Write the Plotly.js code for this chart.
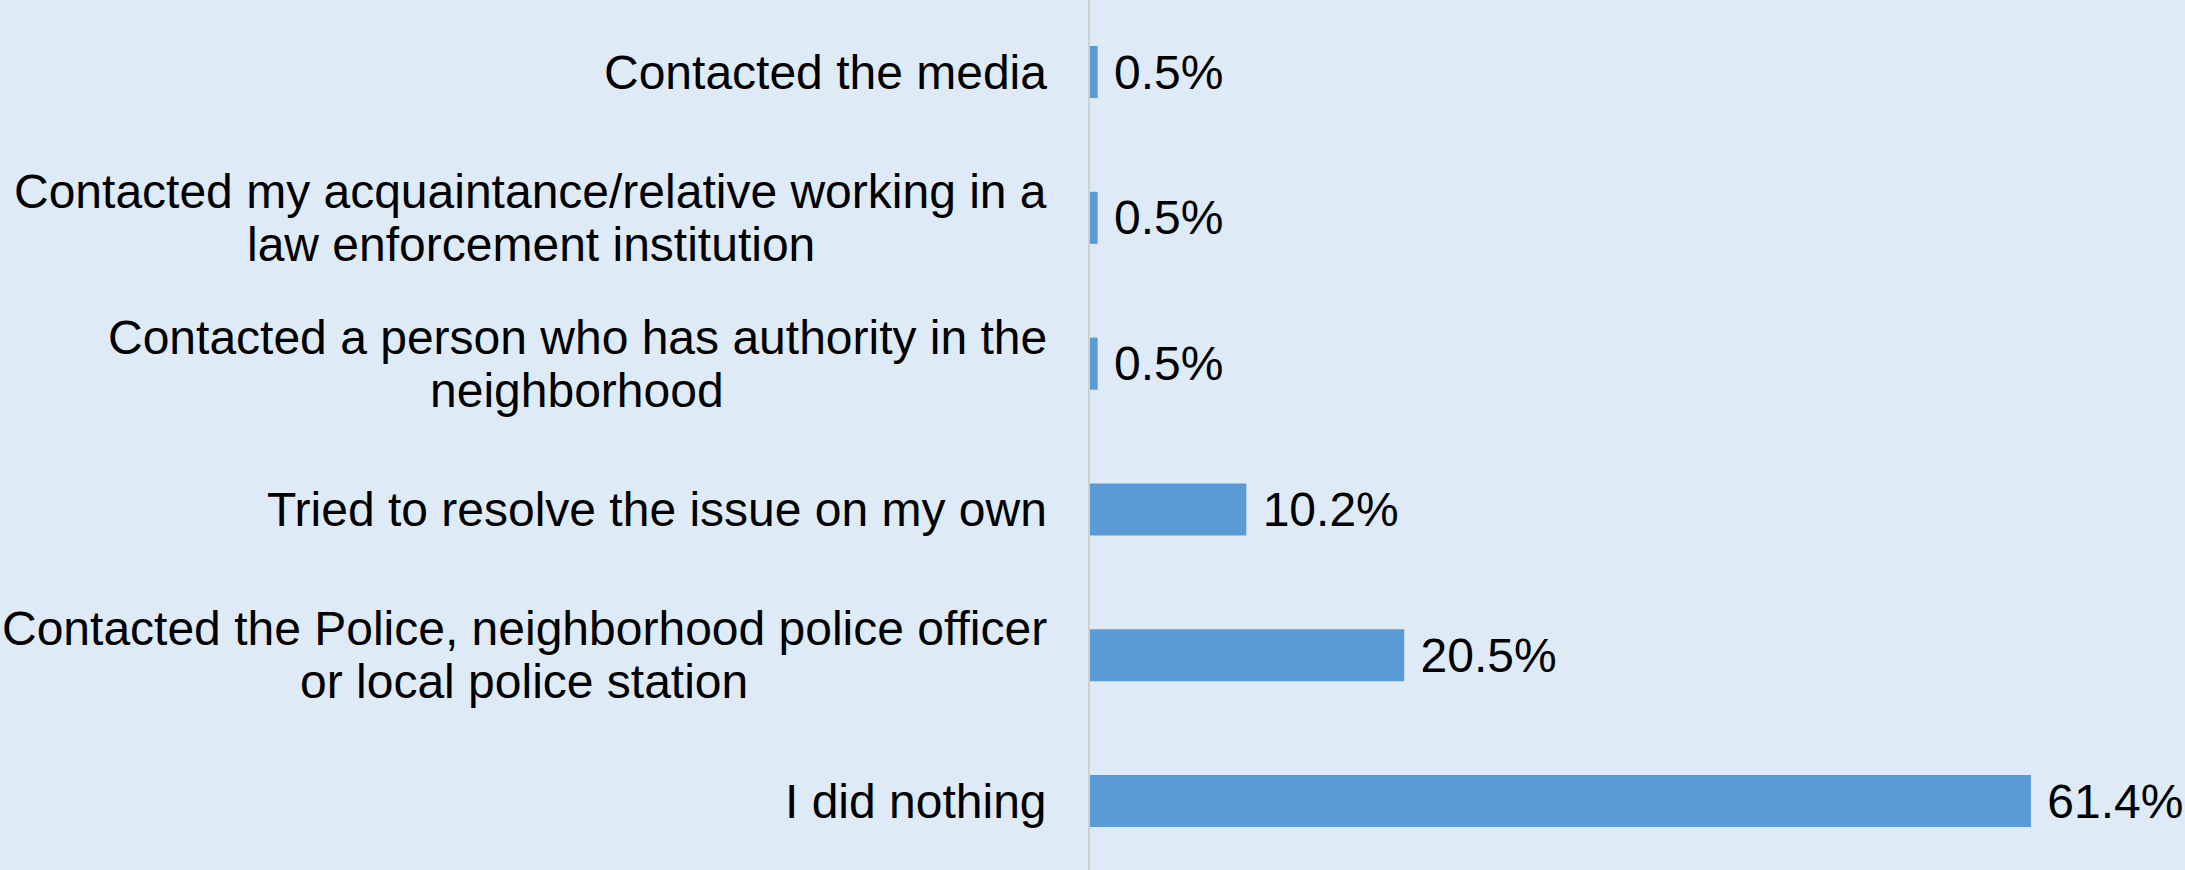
<!DOCTYPE html>
<html>
<head>
<meta charset="utf-8">
<script src="https://cdn.plot.ly/plotly-3.0.1.min.js"></script>
<style>html,body{margin:0;padding:0;background:#DEEAF6;}#chart{width:2185px;height:870px;}</style>
</head>
<body>
<div id="chart"></div>
<script>
// Categories listed top to bottom as shown
const categories = [
  "Contacted the media",
  "Contacted my acquaintance/relative working in a<br>law enforcement institution",
  "Contacted a person who has authority in the<br>neighborhood",
  "Tried to resolve the issue on my own",
  "Contacted the Police, neighborhood police officer<br>or local police station",
  "I did nothing"
];
const values = [0.5, 0.5, 0.5, 10.2, 20.5, 61.4];
const valueLabels = values.map(v => ' ' + v.toFixed(1) + '%');

const FONT = 'Liberation Sans, Arial, sans-serif';
const FONT_SIZE = 48;
const LINE_GAP = 53;     // px between label lines
const LABEL_GAP = 43;    // px between label block and axis

function draw() {
  const cv = document.createElement('canvas');
  const ctx = cv.getContext('2d');
  ctx.font = FONT_SIZE + 'px "Liberation Sans", Arial, sans-serif';

  const annotations = [];
  categories.forEach(cat => {
    const lines = cat.split('<br>');
    const maxW = Math.max(...lines.map(l => ctx.measureText(l).width));
    const n = lines.length;
    lines.forEach((line, k) => {
      annotations.push({
        xref: 'paper', yref: 'y',
        x: 0, y: cat,
        xanchor: 'center', yanchor: 'middle',
        xshift: -(LABEL_GAP + maxW / 2),
        yshift: -(k - (n - 1) / 2) * LINE_GAP,
        text: line,
        showarrow: false,
        align: 'center',
        font: {family: FONT, size: FONT_SIZE, color: '#000000'}
      });
    });
  });

  const trace = {
    type: 'bar',
    orientation: 'h',
    y: categories,
    x: values,
    text: valueLabels,
    textposition: 'outside',
    constraintext: 'none',
    cliponaxis: false,
    textfont: {family: FONT, size: FONT_SIZE, color: '#000000'},
    marker: {color: '#5B9BD5', line: {width: 0}},
    width: 0.357,
    hoverinfo: 'none'
  };

  const layout = {
    width: 2185,
    height: 870,
    margin: {l: 1090, r: 0, t: 0, b: 0, pad: 0},
    paper_bgcolor: '#DEEAF6',
    plot_bgcolor: '#DEEAF6',
    showlegend: false,
    font: {family: FONT, size: FONT_SIZE, color: '#000000'},
    annotations: annotations,
    xaxis: {
      range: [0, 71.45],
      showgrid: false,
      zeroline: false,
      showline: false,
      showticklabels: false,
      ticks: ''
    },
    yaxis: {
      type: 'category',
      range: [5.473, -0.494],
      showgrid: false,
      zeroline: false,
      showline: true,
      linecolor: '#D0D0D0',
      linewidth: 2,
      ticks: '',
      showticklabels: false,
      automargin: false
    }
  };

  Plotly.newPlot('chart', [trace], layout, {displayModeBar: false, staticPlot: true});
}

if (document.fonts && document.fonts.load) {
  document.fonts.load(FONT_SIZE + 'px "Liberation Sans"').then(draw, draw);
} else {
  draw();
}
</script>
</body>
</html>
